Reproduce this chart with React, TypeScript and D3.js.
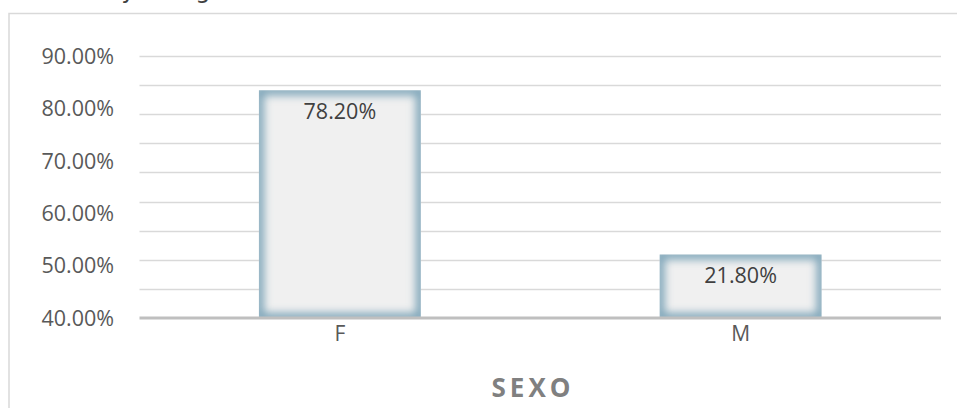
import React from "react";
import * as d3 from "d3";

const categories = ["F", "M"];
const values = [0.782, 0.218];
const valueLabels = ["78.20%", "21.80%"];
const tickLabels = ["40.00%", "50.00%", "60.00%", "70.00%", "80.00%", "90.00%"];
const gridValues = [0.1, 0.2, 0.3, 0.4, 0.5, 0.6, 0.7, 0.8, 0.9];
const axisTitle = "SEXO";
const chartTitle = "Sexo y categoría";

const W = 957;
const H = 408;
const plotLeft = 139.5;
const plotRight = 941;
const plotBottom = 318;
const plotTop = 56;

export default function App() {
  const x = d3
    .scaleBand<string>()
    .domain(categories)
    .range([plotLeft, plotRight])
    .paddingInner(0.596)
    .paddingOuter(0.298);
  const y = d3.scaleLinear().domain([0, 0.9]).range([plotBottom, plotTop]);
  const yLab = d3.scalePoint<string>().domain(tickLabels).range([plotBottom, plotTop]);
  const font = "'Open Sans', 'DejaVu Sans', sans-serif";

  return (
    <svg
      width={W}
      height={H}
      style={{ position: "absolute", left: 0, top: 0, background: "#fff" }}
    >
      <defs>
        <filter id="blur" x="-20%" y="-20%" width="140%" height="140%">
          <feGaussianBlur stdDeviation="4" />
        </filter>
        {categories.map((c, i) => (
          <clipPath id={`clip${i}`} key={c}>
            <rect
              x={x(c)}
              y={y(values[i])}
              width={x.bandwidth()}
              height={plotBottom - y(values[i])}
            />
          </clipPath>
        ))}
      </defs>
      <text
        x={56}
        y={-2.5}
        fontFamily="'DejaVu Sans', sans-serif"
        fontSize={24}
        fill="#404040"
      >
        {chartTitle}
      </text>
      <rect x={9} y={13.5} width={1000} height={500} fill="none" stroke="#d9d9d9" strokeWidth={1.5} />
      {gridValues.map((g) => (
        <line
          key={g}
          x1={plotLeft}
          x2={plotRight}
          y1={Math.round(y(g)) + 0.5}
          y2={Math.round(y(g)) + 0.5}
          stroke="#d9d9d9"
          strokeWidth={1.5}
        />
      ))}
      {tickLabels.map((t) => (
        <text
          key={t}
          x={114}
          y={(yLab(t) as number) + 2}
          textAnchor="end"
          dominantBaseline="middle"
          fontFamily={font}
          fontSize={21.5}
          fill="#595959"
        >
          {t}
        </text>
      ))}
      {categories.map((c, i) => {
        const bx = x(c) as number;
        const by = y(values[i]);
        const bw = x.bandwidth();
        const bh = plotBottom - by;
        return (
          <g key={c}>
            <rect x={bx} y={by} width={bw} height={bh} fill="#f0f0f0" />
            <g clipPath={`url(#clip${i})`}>
              <rect
                x={bx}
                y={by}
                width={bw}
                height={bh}
                fill="none"
                stroke="#7fa6b9"
                strokeWidth={10}
                filter="url(#blur)"
              />
            </g>
            <text
              x={bx + bw / 2}
              y={by + 23}
              textAnchor="middle"
              dominantBaseline="middle"
              fontFamily={font}
              fontSize={21.5}
              fill="#404040"
            >
              {valueLabels[i]}
            </text>
            <text
              x={bx + bw / 2}
              y={335}
              textAnchor="middle"
              dominantBaseline="middle"
              fontFamily={font}
              fontSize={21}
              fill="#595959"
            >
              {c}
            </text>
          </g>
        );
      })}
      <line
        x1={plotLeft}
        x2={plotRight}
        y1={plotBottom}
        y2={plotBottom}
        stroke="#bfbfbf"
        strokeWidth={3}
      />
      <text
        x={533}
        y={390}
        textAnchor="middle"
        dominantBaseline="middle"
        fontFamily="'Open Sans', sans-serif"
        fontWeight="bold"
        fontSize={26}
        letterSpacing={4}
        fill="#808080"
      >
        {axisTitle}
      </text>
    </svg>
  );
}
